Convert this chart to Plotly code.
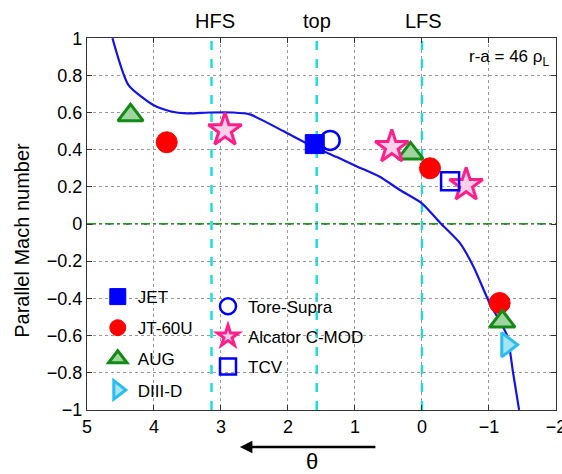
import numpy as np
import plotly.graph_objects as go

# ---- data ----
curve_theta = [4.62, 4.38, 4.01, 3.76, 3.51, 3.16, 2.82, 2.57, 2.07, 1.67, 1.27,
               0.97, 0.63, 0.33, 0.0, -0.27, -0.57, -0.77, -1.01, -1.27, -1.36, -1.45]
curve_mach = [1.0, 0.747, 0.64, 0.607, 0.595, 0.60, 0.60, 0.59, 0.50, 0.425, 0.36,
              0.31, 0.254, 0.183, 0.111, 0.007, -0.104, -0.23, -0.426, -0.60, -0.80, -1.0]

jet_theta, jet_mach = [1.60], [0.43]
jt60_theta, jt60_mach = [3.81, -0.12, -1.16], [0.44, 0.30, -0.425]
aug_theta, aug_mach = [4.35, 0.17, -1.20], [0.585, 0.38, -0.525]
diiid_theta, diiid_mach = [-1.27], [-0.65]
ts_theta, ts_mach = [1.37], [0.45]
cmod_theta, cmod_mach = [2.94, 0.45, -0.66], [0.505, 0.415, 0.21]
tcv_theta, tcv_mach = [-0.42], [0.23]

region_labels = ["HFS", "top", "LFS"]
region_theta = [np.pi, np.pi / 2, 0.0]
label_theta = [3.09, 1.57, -0.03]

x_ticks = [5, 4, 3, 2, 1, 0, -1, -2]
y_ticks = [1, 0.8, 0.6, 0.4, 0.2, 0, -0.2, -0.4, -0.6, -0.8, -1]

FONT = "Liberation Sans"

fig = go.Figure()

fig.add_trace(go.Scatter(x=curve_theta, y=curve_mach, mode="lines",
                         line=dict(color="#1414e6", width=2.2, shape="spline", smoothing=0.6),
                         showlegend=False, hoverinfo="skip"))


def add_marks(xs, ys, name, marker, legend):
    fig.add_trace(go.Scatter(x=xs, y=ys, mode="markers", name=name, marker=marker,
                             legend=legend, legendgroup=name))


add_marks(jet_theta, jet_mach, "JET",
          dict(symbol="square", size=19, color="#0000ff", line=dict(color="#0000ff", width=1)), "legend")
add_marks(jt60_theta, jt60_mach, "JT-60U",
          dict(symbol="circle", size=21, color="#ff0000", line=dict(color="#ff0000", width=1)), "legend")
add_marks(aug_theta, aug_mach, "AUG",
          dict(symbol="triangle-up", size=22, color="#9fd49f", line=dict(color="#138a13", width=3)), "legend")
add_marks(diiid_theta, diiid_mach, "DIII-D",
          dict(symbol="triangle-right", size=21, color="#a6e4f5", line=dict(color="#29bdf0", width=3)), "legend")
add_marks(ts_theta, ts_mach, "Tore-Supra",
          dict(symbol="circle-open", size=19, color="#0000ff", line=dict(color="#0000ff", width=2.5)), "legend2")
add_marks(cmod_theta, cmod_mach, "Alcator C-MOD",
          dict(symbol="star", size=25, color="#ffd0ea", line=dict(color="#ff1f8a", width=3)), "legend2")
add_marks(tcv_theta, tcv_mach, "TCV",
          dict(symbol="square-open", size=18, color="#0000ff", line=dict(color="#0000ff", width=2.5)), "legend2")

shapes = []
for t in region_theta:
    shapes.append(dict(type="line", xref="x", yref="paper", x0=t, x1=t, y0=0, y1=1,
                       line=dict(color="#19e0e0", width=2.5, dash="dash"), layer="below"))
shapes.append(dict(type="line", xref="paper", yref="y", x0=0, x1=1, y0=0, y1=0,
                   line=dict(color="#1f9a1f", width=2, dash="dashdot"), layer="below"))

annotations = []
for lab, t in zip(region_labels, label_theta):
    annotations.append(dict(x=t, y=1, xref="x", yref="paper", text=lab, showarrow=False,
                            yanchor="bottom", yshift=4, font=dict(size=20, color="black", family=FONT)))
annotations.append(dict(x=0.99, y=0.946, xref="paper", yref="paper",
                        text="r-a = 46 ρ<sub>L</sub>", showarrow=False, xanchor="right",
                        yanchor="middle", font=dict(size=17, color="black", family=FONT)))
annotations.append(dict(x=-0.139, y=0.457, xref="paper", yref="paper",
                        text="Parallel Mach number", showarrow=False, textangle=-90,
                        xanchor="center", yanchor="middle",
                        font=dict(size=20, color="black", family=FONT)))
annotations.append(dict(x=0.326, y=-0.0995, xref="paper", yref="paper", text="",
                        showarrow=True, ax=137, ay=0, axref="pixel", ayref="pixel",
                        arrowhead=2, arrowsize=1, arrowwidth=2.5, arrowcolor="black"))
annotations.append(dict(x=0.48, y=-0.138, xref="paper", yref="paper", text="θ",
                        showarrow=False, xanchor="center", yanchor="middle",
                        font=dict(size=22, color="black", family=FONT)))

axis_common = dict(showline=True, linecolor="#333", linewidth=1.2, mirror="ticks",
                   ticks="inside", ticklen=5, tickcolor="#333", showgrid=True,
                   gridcolor="#9a9a9a", griddash="dot", gridwidth=1, zeroline=False,
                   automargin=False,
                   tickfont=dict(size=18, color="black", family=FONT))

fig.update_layout(
    width=562, height=474,
    margin=dict(l=87, r=6, t=38, b=64, autoexpand=False),
    paper_bgcolor="white", plot_bgcolor="white",
    font=dict(family=FONT, color="black"),
    xaxis=dict(range=[5, -2.001], tickvals=x_ticks, ticklabeloverflow="allow", **axis_common),
    yaxis=dict(range=[-1.001, 1.001], tickvals=y_ticks, **axis_common),
    shapes=shapes, annotations=annotations,
    legend=dict(x=0.023, y=0.352, xanchor="left", yanchor="top", bgcolor="rgba(0,0,0,0)",
                font=dict(size=17, family=FONT), tracegroupgap=6, itemsizing="trace"),
    legend2=dict(x=0.258, y=0.326, xanchor="left", yanchor="top", bgcolor="rgba(0,0,0,0)",
                 font=dict(size=17, family=FONT), tracegroupgap=5, itemsizing="trace"),
)

fig.write_html("out.html")
